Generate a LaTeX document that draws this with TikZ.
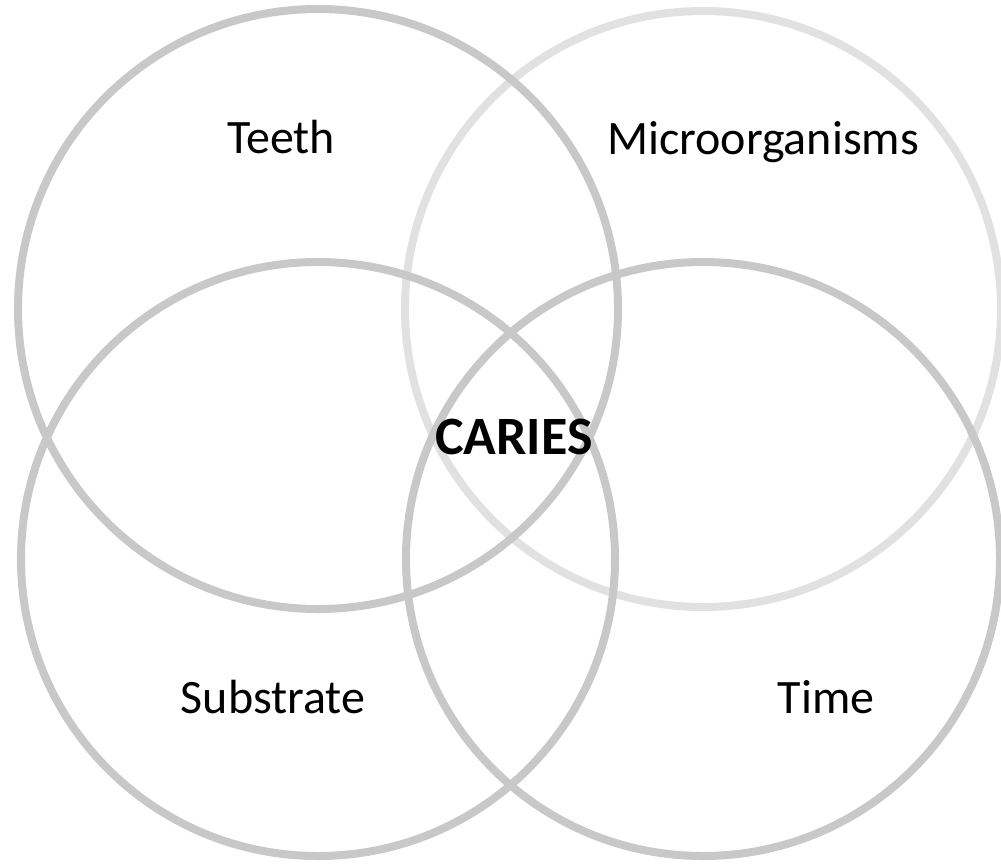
\documentclass[tikz,border=0pt]{standalone}
\usepackage{fontspec}
\setmainfont{Carlito}
\definecolor{ringdark}{HTML}{C8C8C8}
\definecolor{ringlight}{HTML}{E1E1E1}
\tikzset{
  ring/.style={draw=ringdark, line width=8pt},
  lightring/.style={draw=ringlight, line width=8pt},
  lbl/.style={font=\fontsize{48}{56}\selectfont, text=black}
}
\begin{document}
\begin{tikzpicture}[x=1pt,y=-1pt]
\useasboundingbox (0,0) rectangle (1001,863);
\draw[lightring] (703,309) circle (298);
\draw[ring] (318,309) circle (300);
\draw[ring] (318,559) circle (297);
\draw[ring] (703,559) circle (297);
\node[lbl] (teeth) at (281,137) {Teeth};
\node[lbl] (micro) at (763,142) {Microorganisms};
\node[lbl] (subs) at (273,697) {Substrate};
\node[lbl] (time) at (826,697) {Time};
\node[lbl, font=\fontsize{54}{62}\selectfont\bfseries] (caries) at (514,437) {CARIES};
\end{tikzpicture}
\end{document}
